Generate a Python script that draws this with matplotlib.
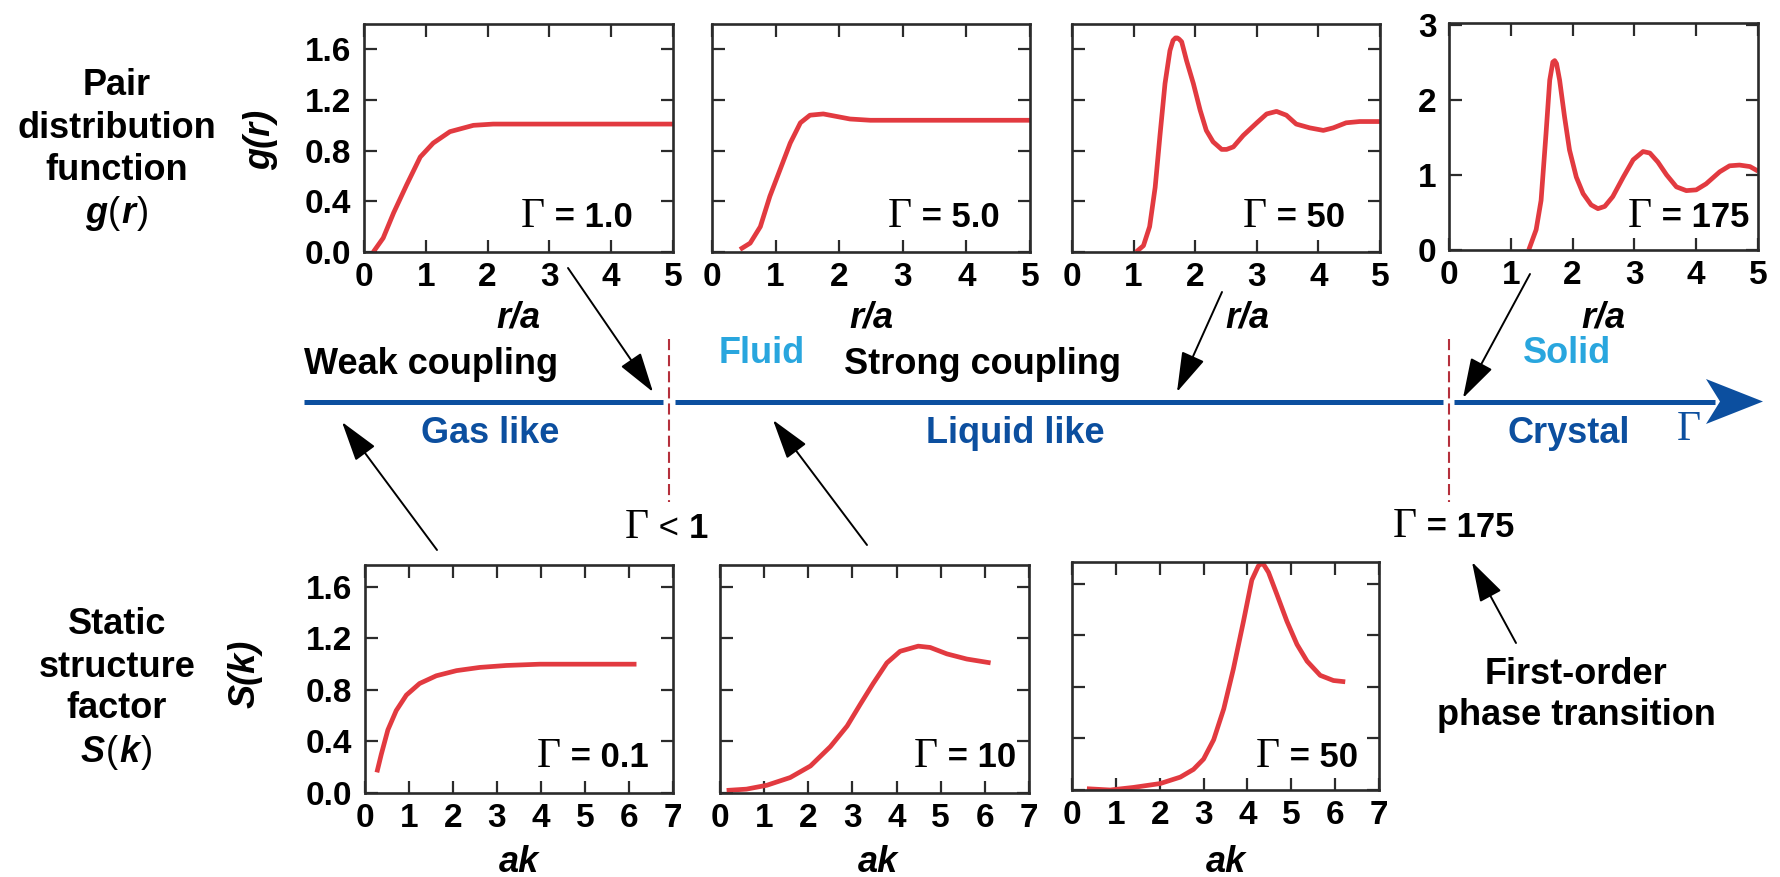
import matplotlib
matplotlib.use("Agg")
import matplotlib.pyplot as plt
from matplotlib.offsetbox import TextArea, HPacker, AnnotationBbox
from matplotlib.patches import Polygon

# ---------------- data ----------------
g1_r = [0.15, 0.31, 0.48, 0.69, 0.91, 1.12, 1.39, 1.77, 2.09, 5.0]
g1 = [0.0, 0.11, 0.31, 0.53, 0.75, 0.86, 0.95, 1.00, 1.01, 1.01]

g5_r = [0.44, 0.60, 0.76, 0.91, 1.07, 1.23, 1.39, 1.54, 1.75, 1.96, 2.17, 2.49, 5.0]
g5 = [0.02, 0.07, 0.20, 0.44, 0.65, 0.86, 1.02, 1.08, 1.09, 1.07, 1.05, 1.04, 1.04]

g50_r = [1.04, 1.16, 1.26, 1.35, 1.43, 1.51, 1.59, 1.64, 1.68, 1.71, 1.74, 1.78, 1.86, 1.97,
         2.08, 2.18, 2.29, 2.43, 2.51, 2.62, 2.78, 3.0, 3.16, 3.32, 3.48, 3.64, 3.86, 4.08,
         4.24, 4.45, 4.67, 5.0]
g50 = [0.0, 0.05, 0.20, 0.51, 0.93, 1.33, 1.59, 1.67, 1.69, 1.69, 1.68, 1.66, 1.51, 1.33,
       1.12, 0.96, 0.87, 0.81, 0.81, 0.83, 0.92, 1.02, 1.09, 1.11, 1.08, 1.01, 0.98, 0.96,
       0.98, 1.02, 1.03, 1.03]

g175_r = [1.29, 1.41, 1.49, 1.57, 1.63, 1.68, 1.71, 1.74, 1.79, 1.87, 1.95, 2.06, 2.17, 2.30,
          2.41, 2.52, 2.65, 2.82, 2.98, 3.14, 3.25, 3.38, 3.52, 3.68, 3.84, 4.0, 4.16, 4.38,
          4.54, 4.70, 4.87, 5.0]
g175 = [0.0, 0.27, 0.66, 1.55, 2.26, 2.50, 2.52, 2.48, 2.26, 1.77, 1.33, 0.97, 0.75, 0.60,
        0.55, 0.58, 0.71, 0.97, 1.20, 1.31, 1.29, 1.17, 1.00, 0.84, 0.79, 0.80, 0.88, 1.04,
        1.12, 1.13, 1.11, 1.05]

s01_k = [0.27, 0.37, 0.52, 0.71, 0.94, 1.24, 1.62, 2.08, 2.61, 3.21, 3.97, 4.73, 5.48, 6.17]
s01 = [0.16, 0.30, 0.49, 0.64, 0.76, 0.85, 0.91, 0.95, 0.975, 0.99, 1.0, 1.0, 1.0, 1.0]

s10_k = [0.15, 0.6, 1.06, 1.59, 2.05, 2.5, 2.88, 3.18, 3.47, 3.78, 4.08, 4.49, 4.76, 5.14,
         5.59, 6.13]
s10 = [0.02, 0.03, 0.06, 0.12, 0.21, 0.36, 0.52, 0.69, 0.85, 1.01, 1.10, 1.14, 1.13, 1.08,
       1.04, 1.01]

s50_k = [0.34, 0.87, 1.40, 2.01, 2.47, 2.77, 3.0, 3.23, 3.46, 3.68, 3.91, 4.1, 4.25, 4.31,
         4.37, 4.48, 4.67, 4.9, 5.13, 5.36, 5.66, 5.96, 6.23]
s50 = [0.01, 0.0, 0.02, 0.05, 0.10, 0.16, 0.24, 0.39, 0.63, 0.94, 1.31, 1.63, 1.74, 1.755,
       1.75, 1.69, 1.52, 1.31, 1.13, 1.00, 0.89, 0.85, 0.84]

top_gamma = ["1.0", "5.0", "50", "175"]
bot_gamma = ["0.1", "10", "50"]
g_ticks = [0.0, 0.4, 0.8, 1.2, 1.6]
g_ticklabels = ["0.0", "0.4", "0.8", "1.2", "1.6"]
g175_ticks = [0, 1, 2, 3]
r_ticks = [0, 1, 2, 3, 4, 5]
k_ticks = [0, 1, 2, 3, 4, 5, 6, 7]

# ---------------- style ----------------
W, H = 1781, 877
RED = "#e23a40"
BLUE = "#0c4f9f"
LBLUE = "#29a6de"
DRED = "#b5303c"
SPINE = "#2b2b2b"
SANS = "Liberation Sans"
SERIF = "Liberation Serif"

plt.rcParams["font.family"] = [SANS, "DejaVu Sans"]
plt.rcParams["font.weight"] = "bold"
plt.rcParams["lines.scale_dashes"] = False

fig = plt.figure(figsize=(W / 100, H / 100), dpi=100)


def px_axes(l, t, r, b):
    return fig.add_axes([l / W, 1 - b / H, (r - l) / W, (b - t) / H])


def style(ax, xlim, ylim, xticks, yticks, ylabels=None):
    ax.set_xlim(*xlim)
    ax.set_ylim(*ylim)
    ax.set_xticks(xticks)
    ax.set_xticklabels([str(t) for t in xticks])
    ax.set_yticks(yticks)
    if ylabels is None:
        ax.set_yticklabels([])
    else:
        ax.set_yticklabels(ylabels)
    ax.tick_params(direction="in", length=9, width=1.6, top=True, right=True,
                   labelsize=24, pad=7, color=SPINE, labelcolor="black")
    ax.tick_params(axis="y", pad=9)
    for s in ax.spines.values():
        s.set_linewidth(1.9)
        s.set_color(SPINE)
    for lab in ax.get_xticklabels() + ax.get_yticklabels():
        lab.set_fontweight("bold")


panel_px = [
    (364, 24, 673, 252), (712, 24, 1030, 252), (1072, 24, 1380, 252), (1449, 23, 1758, 250),
    (365, 565, 673, 793), (720, 565, 1029, 793), (1072, 562, 1379, 790),
]
series = [(g1_r, g1), (g5_r, g5), (g50_r, g50), (g175_r, g175),
          (s01_k, s01), (s10_k, s10), (s50_k, s50)]

axes = []
for i, (pos, (x, y)) in enumerate(zip(panel_px, series)):
    ax = px_axes(*pos)
    if i < 3:
        style(ax, (0, 5), (0, 1.8), r_ticks, g_ticks, g_ticklabels if i == 0 else None)
    elif i == 3:
        style(ax, (0, 5), (0, 3.02), r_ticks, g175_ticks, [str(t) for t in g175_ticks])
    else:
        style(ax, (0, 7), (0, 1.77), k_ticks, g_ticks, g_ticklabels if i == 4 else None)
    ax.plot(x, y, color=RED, lw=3.4, solid_capstyle="butt", solid_joinstyle="round")
    axes.append(ax)

# ---------------- overlay (pixel coordinates) ----------------
ov = fig.add_axes([0, 0, 1, 1], zorder=10)
ov.set_xlim(0, W)
ov.set_ylim(H, 0)
ov.axis("off")
ov.patch.set_alpha(0)


def packed(x, baseline, parts, align="right", color="black", gsize=30, tsize=25):
    kids = [TextArea("Γ", textprops=dict(family=SERIF, fontsize=gsize, color=color,
                                          fontweight="normal"))]
    for txt, wt in parts:
        kids.append(TextArea(txt, textprops=dict(family=SANS, fontsize=tsize, color=color,
                                                 fontweight=wt)))
    box = HPacker(children=kids, align="baseline", pad=0, sep=0)
    ab = AnnotationBbox(box, (x, baseline + 9), xycoords="data",
                        box_alignment=(1 if align == "right" else 0, 0),
                        frameon=False, pad=0, annotation_clip=False)
    ov.add_artist(ab)


def func_label(cx, baseline, f, v, size=26):
    kids = [TextArea(f, textprops=dict(family=SANS, fontsize=size, fontweight="bold",
                                       fontstyle="italic")),
            TextArea("(", textprops=dict(family=SANS, fontsize=size, fontweight="normal")),
            TextArea(v, textprops=dict(family=SANS, fontsize=size, fontweight="bold",
                                       fontstyle="italic")),
            TextArea(")", textprops=dict(family=SANS, fontsize=size, fontweight="normal"))]
    box = HPacker(children=kids, align="baseline", pad=0, sep=1)
    ab = AnnotationBbox(box, (cx, baseline + 8), xycoords="data", box_alignment=(0.5, 0),
                        frameon=False, pad=0, annotation_clip=False)
    ov.add_artist(ab)


# Gamma labels inside panels
gl_pos = [(633, 227), (1000, 227), (1345, 227), (1749, 227),
          (649, 767), (1016, 767), (1358, 767)]
for (x, b), val in zip(gl_pos, top_gamma + bot_gamma):
    packed(x, b, [(" = " + val, "bold")])

# axis labels
for cx in [518, 871, 1247, 1603]:
    ov.text(cx, 327, "r/a", ha="center", va="baseline", fontsize=26,
            fontweight="bold", fontstyle="italic")
for cx in [519, 878, 1226]:
    ov.text(cx, 872, "ak", ha="center", va="baseline", fontsize=26,
            fontweight="bold", fontstyle="italic")
ov.text(261, 140, "g(r)", rotation=90, ha="center", va="center", fontsize=26,
        fontweight="bold", fontstyle="italic")
ov.text(245, 674, "S(k)", rotation=90, ha="center", va="center", fontsize=26,
        fontweight="bold", fontstyle="italic")

# left row titles
for txt, b in [("Pair", 95), ("distribution", 138), ("function", 180),
               ("Static", 634), ("structure", 677), ("factor", 718)]:
    ov.text(117, b, txt, ha="center", va="baseline", fontsize=26, fontweight="bold")
func_label(117, 223, "g", "r")
func_label(117, 762, "S", "k")

# Gamma axis (blue) with gaps
for x0, x1 in [(304, 663), (675, 1443), (1454, 1715)]:
    ov.plot([x0, x1], [401.5, 401.5], color=BLUE, lw=3.6, solid_capstyle="butt")
ov.add_patch(Polygon([(1763, 401.5), (1706, 379), (1720, 401.5), (1706, 424)],
                     closed=True, color=BLUE, lw=0))
ov.text(1677, 440, "Γ", family=SERIF, fontsize=30, color=BLUE, ha="left",
        va="baseline", fontweight="normal")

# dashed boundaries
for xd in [669, 1449]:
    ov.plot([xd, xd], [339, 502], color=DRED, lw=1.5, dashes=(8, 3.6))

# region texts
for txt, x, b, c in [("Weak coupling", 304, 374, "black"), ("Fluid", 719, 363, LBLUE),
                     ("Strong coupling", 844, 374, "black"), ("Solid", 1523, 363, LBLUE),
                     ("Gas like", 421, 443, BLUE), ("Liquid like", 926, 443, BLUE),
                     ("Crystal", 1508, 443, BLUE)]:
    ov.text(x, b, txt, ha="left", va="baseline", fontsize=26, fontweight="bold", color=c)

packed(625, 538, [(" < ", "normal"), ("1", "bold")], align="left")
packed(1393, 537, [(" = 175", "bold")], align="left")

ov.text(1576, 684, "First-order", ha="center", va="baseline", fontsize=26, fontweight="bold")
ov.text(1576, 725, "phase transition", ha="center", va="baseline", fontsize=26,
        fontweight="bold")

# arrows (tail -> tip)
arrows = [((568, 268), (653, 392)), ((1222, 292), (1177, 392)), ((1530, 274), (1463, 398)),
          ((437, 550), (342, 422)), ((867, 545), (773, 420)), ((1516, 643), (1472, 562))]
for tail, tip in arrows:
    ov.annotate("", xy=tip, xytext=tail, xycoords="data", textcoords="data",
                arrowprops=dict(arrowstyle="-|>,head_length=1.25,head_width=0.38",
                                color="black", lw=1.4, shrinkA=0, shrinkB=0,
                                mutation_scale=20))

fig.savefig("out.png", dpi=100)
